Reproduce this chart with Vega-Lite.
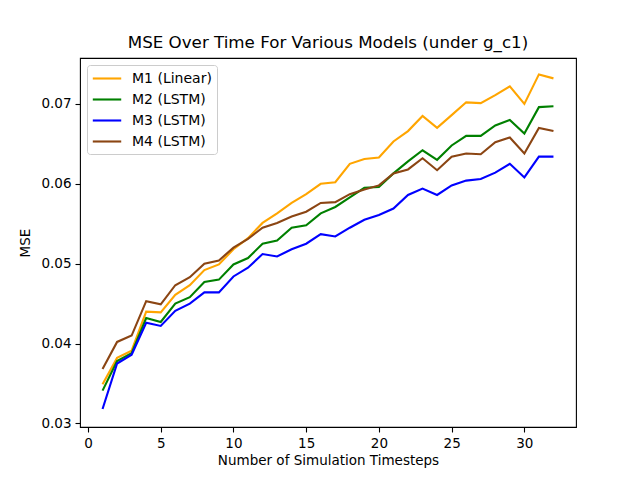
{
  "$schema": "https://vega.github.io/schema/vega-lite/v6.json",
  "autosize": "none",
  "padding": {"left": 80, "top": 58, "right": 64, "bottom": 53},
  "width": 496,
  "height": 369,
  "background": "white",
  "title": {"text": "MSE Over Time For Various Models (under g_c1)", "font": "DejaVu Sans", "fontSize": 16.7, "fontWeight": "normal", "color": "black", "offset": 6, "anchor": "middle"},
  "data": {"values": [
    {"t":1,"model":"M1 (Linear)","mse":0.0349},{"t":2,"model":"M1 (Linear)","mse":0.0382},{"t":3,"model":"M1 (Linear)","mse":0.0391},{"t":4,"model":"M1 (Linear)","mse":0.0440},
    {"t":5,"model":"M1 (Linear)","mse":0.0439},{"t":6,"model":"M1 (Linear)","mse":0.0461},{"t":7,"model":"M1 (Linear)","mse":0.0473},{"t":8,"model":"M1 (Linear)","mse":0.0492},
    {"t":9,"model":"M1 (Linear)","mse":0.0499},{"t":10,"model":"M1 (Linear)","mse":0.0518},{"t":11,"model":"M1 (Linear)","mse":0.0532},{"t":12,"model":"M1 (Linear)","mse":0.0551},
    {"t":13,"model":"M1 (Linear)","mse":0.0563},{"t":14,"model":"M1 (Linear)","mse":0.0576},{"t":15,"model":"M1 (Linear)","mse":0.0587},{"t":16,"model":"M1 (Linear)","mse":0.0600},
    {"t":17,"model":"M1 (Linear)","mse":0.0602},{"t":18,"model":"M1 (Linear)","mse":0.0625},{"t":19,"model":"M1 (Linear)","mse":0.0631},{"t":20,"model":"M1 (Linear)","mse":0.0633},
    {"t":21,"model":"M1 (Linear)","mse":0.0653},{"t":22,"model":"M1 (Linear)","mse":0.0666},{"t":23,"model":"M1 (Linear)","mse":0.0685},{"t":24,"model":"M1 (Linear)","mse":0.0670},
    {"t":25,"model":"M1 (Linear)","mse":0.0686},{"t":26,"model":"M1 (Linear)","mse":0.0702},{"t":27,"model":"M1 (Linear)","mse":0.0701},{"t":28,"model":"M1 (Linear)","mse":0.0711},
    {"t":29,"model":"M1 (Linear)","mse":0.0722},{"t":30,"model":"M1 (Linear)","mse":0.0700},{"t":31,"model":"M1 (Linear)","mse":0.0737},{"t":32,"model":"M1 (Linear)","mse":0.0732},
    {"t":1,"model":"M2 (LSTM)","mse":0.0341},{"t":2,"model":"M2 (LSTM)","mse":0.0378},{"t":3,"model":"M2 (LSTM)","mse":0.0388},{"t":4,"model":"M2 (LSTM)","mse":0.0432},
    {"t":5,"model":"M2 (LSTM)","mse":0.0427},{"t":6,"model":"M2 (LSTM)","mse":0.0450},{"t":7,"model":"M2 (LSTM)","mse":0.0458},{"t":8,"model":"M2 (LSTM)","mse":0.0477},
    {"t":9,"model":"M2 (LSTM)","mse":0.0480},{"t":10,"model":"M2 (LSTM)","mse":0.0499},{"t":11,"model":"M2 (LSTM)","mse":0.0507},{"t":12,"model":"M2 (LSTM)","mse":0.0525},
    {"t":13,"model":"M2 (LSTM)","mse":0.0529},{"t":14,"model":"M2 (LSTM)","mse":0.0545},{"t":15,"model":"M2 (LSTM)","mse":0.0548},{"t":16,"model":"M2 (LSTM)","mse":0.0563},
    {"t":17,"model":"M2 (LSTM)","mse":0.0571},{"t":18,"model":"M2 (LSTM)","mse":0.0583},{"t":19,"model":"M2 (LSTM)","mse":0.0595},{"t":20,"model":"M2 (LSTM)","mse":0.0596},
    {"t":21,"model":"M2 (LSTM)","mse":0.0613},{"t":22,"model":"M2 (LSTM)","mse":0.0628},{"t":23,"model":"M2 (LSTM)","mse":0.0642},{"t":24,"model":"M2 (LSTM)","mse":0.0630},
    {"t":25,"model":"M2 (LSTM)","mse":0.0648},{"t":26,"model":"M2 (LSTM)","mse":0.0660},{"t":27,"model":"M2 (LSTM)","mse":0.0660},{"t":28,"model":"M2 (LSTM)","mse":0.0673},
    {"t":29,"model":"M2 (LSTM)","mse":0.0680},{"t":30,"model":"M2 (LSTM)","mse":0.0663},{"t":31,"model":"M2 (LSTM)","mse":0.0696},{"t":32,"model":"M2 (LSTM)","mse":0.0697},
    {"t":1,"model":"M3 (LSTM)","mse":0.0318},{"t":2,"model":"M3 (LSTM)","mse":0.0375},{"t":3,"model":"M3 (LSTM)","mse":0.0386},{"t":4,"model":"M3 (LSTM)","mse":0.0426},
    {"t":5,"model":"M3 (LSTM)","mse":0.0422},{"t":6,"model":"M3 (LSTM)","mse":0.0441},{"t":7,"model":"M3 (LSTM)","mse":0.0450},{"t":8,"model":"M3 (LSTM)","mse":0.0464},
    {"t":9,"model":"M3 (LSTM)","mse":0.0464},{"t":10,"model":"M3 (LSTM)","mse":0.0484},{"t":11,"model":"M3 (LSTM)","mse":0.0495},{"t":12,"model":"M3 (LSTM)","mse":0.0512},
    {"t":13,"model":"M3 (LSTM)","mse":0.0509},{"t":14,"model":"M3 (LSTM)","mse":0.0518},{"t":15,"model":"M3 (LSTM)","mse":0.0525},{"t":16,"model":"M3 (LSTM)","mse":0.0537},
    {"t":17,"model":"M3 (LSTM)","mse":0.0534},{"t":18,"model":"M3 (LSTM)","mse":0.0545},{"t":19,"model":"M3 (LSTM)","mse":0.0555},{"t":20,"model":"M3 (LSTM)","mse":0.0561},
    {"t":21,"model":"M3 (LSTM)","mse":0.0569},{"t":22,"model":"M3 (LSTM)","mse":0.0586},{"t":23,"model":"M3 (LSTM)","mse":0.0594},{"t":24,"model":"M3 (LSTM)","mse":0.0586},
    {"t":25,"model":"M3 (LSTM)","mse":0.0598},{"t":26,"model":"M3 (LSTM)","mse":0.0604},{"t":27,"model":"M3 (LSTM)","mse":0.0606},{"t":28,"model":"M3 (LSTM)","mse":0.0614},
    {"t":29,"model":"M3 (LSTM)","mse":0.0625},{"t":30,"model":"M3 (LSTM)","mse":0.0608},{"t":31,"model":"M3 (LSTM)","mse":0.0634},{"t":32,"model":"M3 (LSTM)","mse":0.0634},
    {"t":1,"model":"M4 (LSTM)","mse":0.0368},{"t":2,"model":"M4 (LSTM)","mse":0.0402},{"t":3,"model":"M4 (LSTM)","mse":0.0410},{"t":4,"model":"M4 (LSTM)","mse":0.0453},
    {"t":5,"model":"M4 (LSTM)","mse":0.0449},{"t":6,"model":"M4 (LSTM)","mse":0.0473},{"t":7,"model":"M4 (LSTM)","mse":0.0483},{"t":8,"model":"M4 (LSTM)","mse":0.0500},
    {"t":9,"model":"M4 (LSTM)","mse":0.0504},{"t":10,"model":"M4 (LSTM)","mse":0.0520},{"t":11,"model":"M4 (LSTM)","mse":0.0531},{"t":12,"model":"M4 (LSTM)","mse":0.0545},
    {"t":13,"model":"M4 (LSTM)","mse":0.0551},{"t":14,"model":"M4 (LSTM)","mse":0.0559},{"t":15,"model":"M4 (LSTM)","mse":0.0565},{"t":16,"model":"M4 (LSTM)","mse":0.0576},
    {"t":17,"model":"M4 (LSTM)","mse":0.0577},{"t":18,"model":"M4 (LSTM)","mse":0.0587},{"t":19,"model":"M4 (LSTM)","mse":0.0593},{"t":20,"model":"M4 (LSTM)","mse":0.0598},
    {"t":21,"model":"M4 (LSTM)","mse":0.0613},{"t":22,"model":"M4 (LSTM)","mse":0.0618},{"t":23,"model":"M4 (LSTM)","mse":0.0632},{"t":24,"model":"M4 (LSTM)","mse":0.0617},
    {"t":25,"model":"M4 (LSTM)","mse":0.0634},{"t":26,"model":"M4 (LSTM)","mse":0.0638},{"t":27,"model":"M4 (LSTM)","mse":0.0637},{"t":28,"model":"M4 (LSTM)","mse":0.0652},
    {"t":29,"model":"M4 (LSTM)","mse":0.0658},{"t":30,"model":"M4 (LSTM)","mse":0.0638},{"t":31,"model":"M4 (LSTM)","mse":0.0670},{"t":32,"model":"M4 (LSTM)","mse":0.0666}
  ]},
  "mark": {"type": "line", "strokeWidth": 2.1, "clip": true},
  "encoding": {
    "x": {"field": "t", "type": "quantitative",
      "scale": {"domain": [-0.55, 33.55], "nice": false, "zero": false},
      "axis": {"title": "Number of Simulation Timesteps", "values": [0, 5, 10, 15, 20, 25, 30], "format": "d", "labelPadding": 4, "titlePadding": 4}},
    "y": {"field": "mse", "type": "quantitative",
      "scale": {"domain": [0.02955, 0.07575], "nice": false, "zero": false},
      "axis": {"title": "MSE", "values": [0.03, 0.04, 0.05, 0.06, 0.07], "format": ".2f", "labelPadding": 4, "titlePadding": 8}},
    "color": {"field": "model", "type": "nominal",
      "scale": {"domain": ["M1 (Linear)", "M2 (LSTM)", "M3 (LSTM)", "M4 (LSTM)"], "range": ["#ffa500", "#008000", "#0000ff", "#8b4513"]},
      "legend": {"title": null, "orient": "none", "legendX": 7, "legendY": 7,
        "symbolType": "M-1.1,0L2.96,0", "symbolSize": 196, "symbolStrokeWidth": 2.1,
        "labelFontSize": 14, "labelFont": "DejaVu Sans", "labelColor": "black", "labelOffset": 23,
        "rowPadding": 5, "padding": 5, "fillColor": "white", "strokeColor": "#cccccc", "cornerRadius": 3}}
  },
  "config": {
    "view": {"stroke": "black", "strokeWidth": 1.1},
    "axis": {"grid": false, "domain": false, "tickColor": "black", "tickSize": 5, "tickWidth": 1.1,
      "labelFont": "DejaVu Sans", "labelFontSize": 13.5, "labelColor": "black",
      "titleFont": "DejaVu Sans", "titleFontSize": 13.5, "titleFontWeight": "normal", "titleColor": "black"}
  }
}
